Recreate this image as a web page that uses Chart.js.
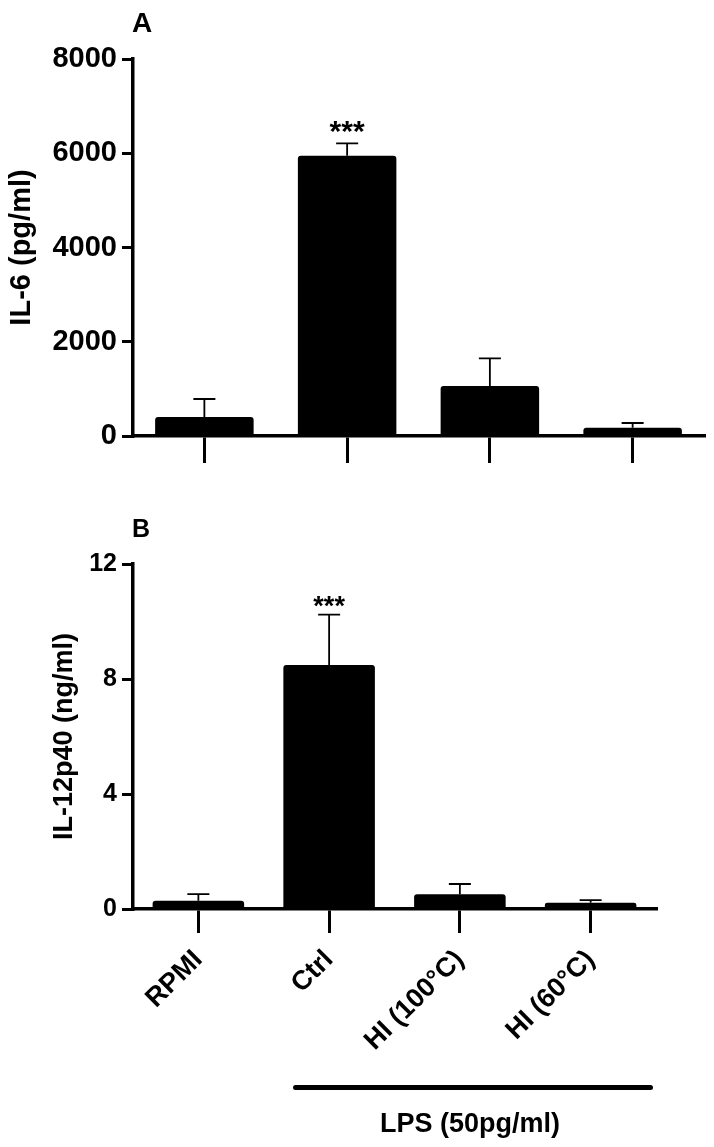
<!DOCTYPE html>
<html>
<head>
<meta charset="utf-8">
<script src="https://cdn.jsdelivr.net/npm/chart.js@4.4.1/dist/chart.umd.min.js"></script>
<style>
  body { margin: 0; background: #fff; width: 714px; height: 1147px; position: relative; overflow: hidden;
         font-family: 'Liberation Sans', Arial, sans-serif; }
  canvas { position: absolute; left: 0; }
  #chartA { top: 0; }
  #chartB { top: 480px; }
  #lpsLine { position: absolute; left: 293px; top: 1085px; width: 360px; height: 5px; background: #000; border-radius: 3px; }
  #lpsText { position: absolute; left: 320px; width: 300px; top: 1110px; text-align: center;
             font-weight: bold; font-size: 27px; line-height: 1; color: #000; }
</style>
</head>
<body>
<canvas id="chartA" width="714" height="480"></canvas>
<canvas id="chartB" width="714" height="667"></canvas>
<div id="lpsLine"></div>
<div id="lpsText">LPS (50pg/ml)</div>

<script>
// data
const groups = ['RPMI', 'Ctrl', 'HI (100°C)', 'HI (60°C)'];
const il6Mean = [403, 5948, 1061, 177];
const il6Upper = [785, 6211, 1649, 276];      // mean + SEM
const il12Mean = [0.29, 8.49, 0.51, 0.22];
const il12Upper = [0.52, 10.24, 0.87, 0.31];
const il6Ticks = [0, 2000, 4000, 6000, 8000];
const il12Ticks = [0, 4, 8, 12];

Chart.defaults.font.family = "'Liberation Sans', Arial, sans-serif";
Chart.defaults.color = '#000';

// error bars (upper only), the *** mark and the panel letter
const extras = {
  id: 'extras',
  afterDatasetsDraw(chart, args, o) {
    const ctx = chart.ctx;
    const y = chart.scales.y;
    const bars = chart.getDatasetMeta(0).data;
    ctx.save();
    ctx.strokeStyle = '#000';
    ctx.lineWidth = 1.8;
    o.upper.forEach((v, i) => {
      const x = bars[i].x, top = y.getPixelForValue(v);
      ctx.beginPath();
      ctx.moveTo(x, bars[i].y);
      ctx.lineTo(x, top);
      ctx.moveTo(x - 11, top);
      ctx.lineTo(x + 11, top);
      ctx.stroke();
    });
    ctx.fillStyle = '#000';
    ctx.textAlign = 'center';
    ctx.textBaseline = 'alphabetic';
    ctx.font = o.starFont;
    ctx.fillText('***', bars[o.starAt].x, y.getPixelForValue(o.upper[o.starAt]) + o.starGap);
    ctx.textAlign = 'left';
    ctx.font = o.letterFont;
    ctx.fillText(o.letter, 132, o.letterY);
    ctx.restore();
  }
};

function makeChart(id, cfg) {
  const t = cfg.ticks;
  return new Chart(document.getElementById(id), {
    type: 'bar',
    data: {
      labels: groups,
      datasets: [{
        data: cfg.mean,
        backgroundColor: '#000',
        borderWidth: 0,
        borderRadius: 3,
        barPercentage: cfg.barPct,
        categoryPercentage: 1
      }]
    },
    options: {
      responsive: false,
      animation: false,
      layout: { padding: cfg.padding },
      plugins: {
        legend: { display: false },
        tooltip: { enabled: false },
        extras: cfg.extras
      },
      scales: {
        x: {
          offset: true,
          afterFit: s => { s.height = cfg.xHeight; },
          grid: { drawOnChartArea: false, drawTicks: true, tickLength: cfg.xTick, color: '#000', lineWidth: 3, offset: false },
          border: { display: true, color: '#000', width: 3.5 },
          ticks: cfg.xLabels
        },
        y: {
          min: t[0],
          max: t[t.length - 1],
          afterFit: s => { s.width = 133; },
          grid: { drawOnChartArea: false, drawTicks: true, tickLength: 11, color: '#000', lineWidth: 3 },
          border: { display: true, color: '#000', width: 3.5 },
          ticks: { stepSize: t[1] - t[0], padding: 5, font: { size: cfg.tickSize, weight: 'bold' }, callback: v => String(v) },
          title: { display: true, text: cfg.title, font: { size: cfg.titleSize, weight: 'bold' }, padding: { top: cfg.titlePad, bottom: 0 } }
        }
      }
    },
    plugins: [extras]
  });
}

makeChart('chartA', {
  mean: il6Mean, ticks: il6Ticks, barPct: 0.69,
  padding: { top: 59, right: 10, bottom: 17, left: 0 },
  xHeight: 27, xTick: 27,
  xLabels: { display: false },
  tickSize: 29, title: 'IL-6 (pg/ml)', titleSize: 29, titlePad: 5,
  extras: { upper: il6Upper, starAt: 1, starGap: -2, starFont: 'bold 30px "Liberation Sans", Arial', letter: 'A', letterY: 32, letterFont: 'bold 28px "Liberation Sans", Arial' }
});

makeChart('chartB', {
  mean: il12Mean, ticks: il12Ticks, barPct: 0.70,
  padding: { top: 84, right: 58, bottom: 38, left: 0 },
  xHeight: 200, xTick: 24,
  xLabels: { display: true, autoSkip: false, minRotation: 45, maxRotation: 45, padding: 11, font: { size: 27, weight: 'bold' } },
  tickSize: 25, title: 'IL-12p40 (ng/ml)', titleSize: 27, titlePad: 48,
  extras: { upper: il12Upper, starAt: 1, starGap: 0, starFont: 'bold 27px "Liberation Sans", Arial', letter: 'B', letterY: 57, letterFont: 'bold 25px "Liberation Sans", Arial' }
});
</script>
</body>
</html>
